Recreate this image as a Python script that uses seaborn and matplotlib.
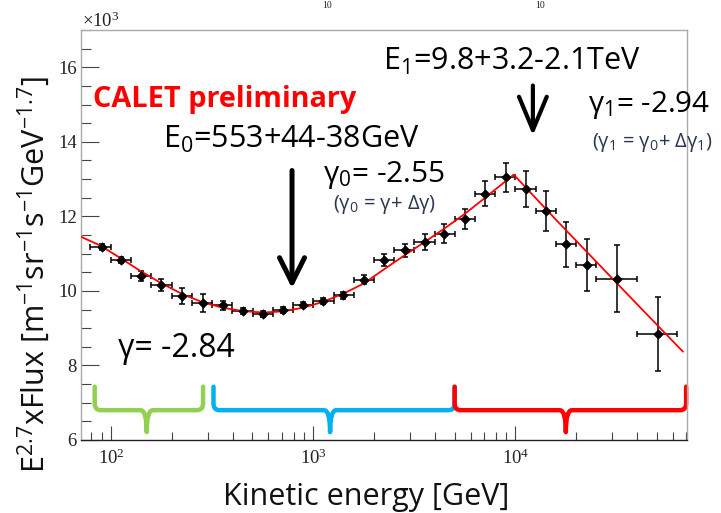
import numpy as np
import matplotlib
matplotlib.use('Agg')
import matplotlib.pyplot as plt
from matplotlib.path import Path
from matplotlib.patches import PathPatch
from matplotlib.ticker import MultipleLocator, NullFormatter, LogLocator
import seaborn as sns

# Datos (flujo en unidades de 10^3)
energia = [90, 112, 141, 177, 224, 284, 356, 448, 562, 711, 887, 1122, 1409, 1781,
           2238, 2843, 3570, 4447, 5630, 7067, 8935, 11240, 14230, 17870, 22450, 31850, 50470]
bin_bajo = [79, 100, 126, 158, 200, 251, 316, 398, 501, 631, 794, 1000, 1259, 1585,
            1995, 2512, 3162, 3981, 5012, 6310, 7943, 10000, 12589, 15849, 19953, 25119, 39811]
bin_alto = [100, 126, 158, 200, 251, 316, 398, 501, 631, 794, 1000, 1259, 1585, 1995,
            2512, 3162, 3981, 5012, 6310, 7943, 10000, 12589, 15849, 19953, 25119, 39811, 63096]
flujo = [11.18, 10.82, 10.40, 10.17, 9.86, 9.68, 9.62, 9.47, 9.39, 9.50, 9.62, 9.73, 9.88, 10.30,
         10.82, 11.09, 11.31, 11.54, 11.94, 12.61, 13.05, 12.74, 12.14, 11.25, 10.69, 10.33, 8.84]
error_flujo = [0.08, 0.08, 0.13, 0.16, 0.22, 0.24, 0.12, 0.08, 0.08, 0.08, 0.08, 0.08, 0.10, 0.12,
               0.16, 0.18, 0.21, 0.25, 0.27, 0.34, 0.39, 0.48, 0.53, 0.60, 0.70, 0.89, 0.99]

# Curva del ajuste (linea roja)
ajuste_energia = [70.5, 89, 112, 141, 178, 224, 282, 355, 447, 562, 708, 891, 1122, 1413,
                  1778, 2239, 2818, 3548, 4467, 5623, 7079, 9800, 15850, 25120, 39810, 67300]
ajuste_flujo = [11.46, 11.21, 10.87, 10.52, 10.20, 9.92, 9.70, 9.55, 9.46, 9.42, 9.45, 9.55, 9.71, 9.93,
                10.20, 10.58, 10.95, 11.31, 11.68, 12.07, 12.50, 13.12, 11.91, 10.78, 9.65, 8.37]

# Llaves de colores: (inicio, fin, punta) en GeV
llaves = [(83, 285, 150, '#92D050'), (321, 5000, 1211, '#00B0F0'), (5000, 69800, 17740, '#FF0000')]

sns.set_theme(style='white')
plt.rcParams['font.family'] = ['Open Sans', 'DejaVu Sans']
plt.rcParams['mathtext.fontset'] = 'custom'
plt.rcParams['mathtext.rm'] = 'Open Sans'
plt.rcParams['mathtext.it'] = 'Open Sans:italic'
plt.rcParams['mathtext.bf'] = 'Open Sans:bold'

W, H = 721, 513
fig = plt.figure(figsize=(W / 100, H / 100), dpi=100)
ax = fig.add_axes([81 / W, 1 - 440 / H, 606 / W, 410 / H])


def px(x, y):
    return x / W, 1 - y / H


# errores y puntos
xerr = [np.array(energia) - np.array(bin_bajo), np.array(bin_alto) - np.array(energia)]
ax.errorbar(energia, flujo, yerr=error_flujo, xerr=xerr, fmt='none', ecolor='black',
            elinewidth=1.1, capsize=2, capthick=1.1, zorder=3)
sns.lineplot(x=ajuste_energia, y=ajuste_flujo, ax=ax, color='red', lw=1.3, sort=False,
             estimator=None, zorder=4)
sns.scatterplot(x=energia, y=flujo, ax=ax, color='black', s=24, marker='D', edgecolor='black',
                zorder=5)

ax.set_xscale('log')
ax.set_xlim(71, 70500)
ax.set_ylim(6, 17)
ax.yaxis.set_major_locator(MultipleLocator(2))
ax.yaxis.set_minor_locator(MultipleLocator(0.5))
ax.xaxis.set_minor_locator(LogLocator(base=10, subs=np.arange(2, 10)))
ax.xaxis.set_minor_formatter(NullFormatter())

ax.tick_params(which='both', direction='in', colors='#444444', width=0.8,
               labelcolor='#222222', labelsize=13.5, labelfontfamily='Liberation Serif',
               top=False, right=False, left=True, bottom=True)
ax.tick_params(axis='y', which='major', length=13, pad=3)
ax.tick_params(axis='y', which='minor', length=7)
ax.tick_params(axis='x', which='major', length=10, pad=6)
ax.tick_params(axis='x', which='minor', length=6)
for lado in ['top', 'right', 'left']:
    ax.spines[lado].set_color('#aaaaaa')
    ax.spines[lado].set_linewidth(1.0)
ax.spines['bottom'].set_color('#222222')
ax.spines['bottom'].set_linewidth(1.0)

# llaves
for x0, x1, xt, color in llaves:
    l0, l1, lt = np.log10([x0, x1, xt])
    r = 0.03
    ytop, yh, ytip = 7.43, 6.80, 6.21
    v = [(l0, ytop), (l0, yh + 0.18), (l0, yh), (l0 + r, yh), (lt - r, yh), (lt, yh), (lt, ytip),
         (lt, yh), (lt + r, yh), (l1 - r, yh), (l1, yh), (l1, yh + 0.18), (l1, ytop)]
    v = [(10 ** a, b) for a, b in v]
    c = [Path.MOVETO, Path.LINETO, Path.CURVE3, Path.CURVE3, Path.LINETO, Path.CURVE3, Path.CURVE3,
         Path.CURVE3, Path.CURVE3, Path.LINETO, Path.CURVE3, Path.CURVE3, Path.LINETO]
    ax.add_patch(PathPatch(Path(v, c), fill=False, edgecolor=color, lw=3.2,
                           capstyle='round', joinstyle='round', clip_on=False, zorder=2))

# flechas
ax.annotate('', xy=(785, 10.07), xytext=(785, 13.23),
            arrowprops=dict(arrowstyle='->,head_length=0.9,head_width=0.45', lw=3.6,
                            color='black', mutation_scale=20, shrinkA=0, shrinkB=0))
ax.annotate('', xy=(12190, 14.17), xytext=(12190, 15.51),
            arrowprops=dict(arrowstyle='->,head_length=1.2,head_width=0.5', lw=3.0,
                            color='black', mutation_scale=20, shrinkA=0, shrinkB=0))

# textos
fig.text(*px(93, 107), 'CALET preliminary', color='red', fontsize=20.8, fontweight='bold')
fig.text(*px(163, 148), r'E$_0$=553+44-38GeV', color='black', fontsize=22)
fig.text(*px(383, 70), r'E$_1$=9.8+3.2-2.1TeV', color='black', fontsize=22)
fig.text(*px(323, 182), r'γ$_0$= -2.55', color='black', fontsize=21.5)
fig.text(*px(333, 209), r'(γ$_0$ = γ+ Δγ)', color='#2a3550', fontsize=14.5)
fig.text(*px(588, 112), r'γ$_1$= -2.94', color='black', fontsize=21.3)
fig.text(*px(592, 147), r'(γ$_1$ = γ$_0$+ Δγ$_1$)', color='#2a3550', fontsize=14.5)
fig.text(*px(118, 357), 'γ= -2.84', color='black', fontsize=23)
fig.text(*px(82, 27), r'×$\mathdefault{10^{3}}$', family='Liberation Serif', fontsize=13.5,
         color='#222222')
fig.text(*px(322, 1), '10', family='Liberation Serif', fontsize=7, color='#222222', va='top')
fig.text(*px(535, 1), '10', family='Liberation Serif', fontsize=7, color='#222222', va='top')

fig.text(*px(34, 275), r'E$^{2.7}$xFlux [m$^{-1}$sr$^{-1}$s$^{-1}$GeV$^{-1.7}$]',
         rotation=90, ha='center', va='center', fontsize=22, color='#111111')
fig.text(*px(366, 505), 'Kinetic energy [GeV]', ha='center', va='baseline', fontsize=22,
         color='#111111')

fig.savefig('out.png', dpi=100)
